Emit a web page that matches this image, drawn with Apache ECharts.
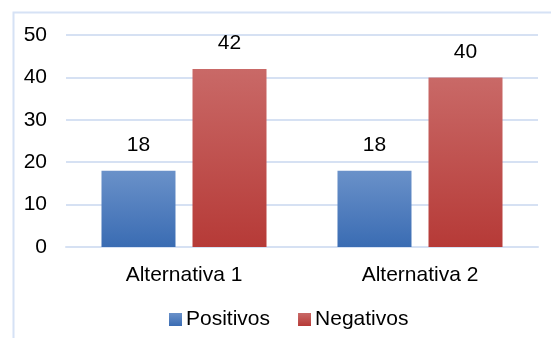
<!DOCTYPE html>
<html>
<head>
<meta charset="utf-8">
<script src="https://cdn.jsdelivr.net/npm/echarts@6/dist/echarts.min.js"></script>
<style>html,body{margin:0;padding:0;background:#fff}#c{width:551px;height:338px}</style>
</head>
<body>
<div id="c"></div>
<script>
const categories = ['Alternativa 1', 'Alternativa 2'];
const positivos = [18, 18];
const negativos = [42, 40];
const seriesNames = ['Positivos', 'Negativos'];

const chart = echarts.init(document.getElementById('c'), null, {renderer: 'canvas'});
const font = 'Liberation Sans, Arial, sans-serif';
const fs = 21;
function grad(top, bottom) {
  return new echarts.graphic.LinearGradient(0, 0, 0, 1, [
    {offset: 0, color: top}, {offset: 1, color: bottom}
  ]);
}
const labelCfg = {show: true, position: 'top', distance: 15, color: '#000', fontSize: fs, fontFamily: font};
chart.setOption({
  animation: false,
  graphic: [{
    type: 'rect', left: 11, top: 10, shape: {width: 600, height: 400},
    style: {fill: 'none', stroke: '#d6e2f5', lineWidth: 2}, silent: true
  }],
  grid: {left: 66, right: 13, top: 35, bottom: 91},
  legend: {
    data: seriesNames, left: 164, top: 304,
    itemWidth: 13, itemHeight: 13, itemGap: 28,
    textStyle: {fontSize: fs, fontFamily: font, color: '#000', padding: [0, 0, 0, -1]},
    icon: 'rect'
  },
  xAxis: {
    type: 'category', data: categories,
    axisLine: {show: true, lineStyle: {color: '#d6e1f3', width: 2}},
    axisTick: {show: false},
    axisLabel: {color: '#000', fontSize: fs, fontFamily: font, margin: 18}
  },
  yAxis: {
    type: 'value', min: 0, max: 50, interval: 10,
    axisLine: {show: false}, axisTick: {show: false},
    splitLine: {lineStyle: {color: '#d6e1f3', width: 2}},
    axisLabel: {color: '#000', fontSize: fs, fontFamily: font, margin: 19}
  },
  series: [
    {name: seriesNames[0], type: 'bar', data: positivos, barWidth: 74, barGap: '23%',
     itemStyle: {color: grad('#6a91c9', '#3a6cb3')}, label: labelCfg},
    {name: seriesNames[1], type: 'bar', data: negativos, barWidth: 74,
     itemStyle: {color: grad('#c96967', '#b63a37')}, label: labelCfg}
  ]
});
</script>
</body>
</html>
